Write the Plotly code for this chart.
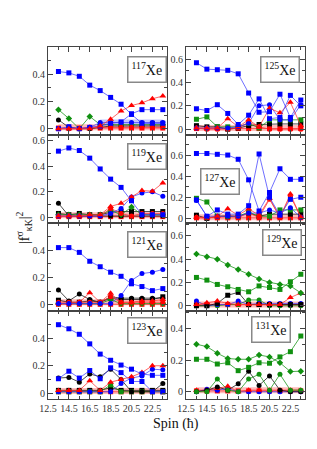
import plotly.graph_objects as go

SPIN = [13.5, 14.5, 15.5, 16.5, 17.5, 18.5, 19.5, 20.5, 21.5, 22.5, 23.5]
X_TICKS = [12.5, 14.5, 16.5, 18.5, 20.5, 22.5]
X_TICK_LABELS = ["12.5", "14.5", "16.5", "18.5", "20.5", "22.5"]

# ---- 117Xe ----
xe117_blue_sq = [0.42, 0.41, 0.385, 0.32, 0.28, 0.23, 0.18, 0.105, 0.04, 0.04, 0.04]
xe117_blue_sq2 = [0.0, 0.015, 0.0, 0.01, 0.02, 0.04, 0.05, 0.11, 0.14, 0.14, 0.14]
xe117_blue_ci = [0.0, 0.0, 0.0, 0.01, 0.045, 0.045, 0.045, 0.045, 0.045, 0.045, 0.045]
xe117_red_tri = [0.0, 0.0, 0.0, 0.0, 0.02, 0.07, 0.13, 0.17, 0.19, 0.22, 0.24]
xe117_green = [0.14, 0.075, 0.0, 0.09, 0.03, 0.03, 0.03, 0.03, 0.03, 0.03, 0.03]
xe117_black = [0.065, 0.01, 0.0, 0.0, 0.01, 0.02, 0.02, 0.02, 0.02, 0.02, 0.02]
xe117_red_ci = [0.0, 0.0, 0.0, 0.01, 0.01, 0.01, 0.01, 0.01, 0.01, 0.01, 0.01]
xe117_red_sq = [0.005, 0.005, 0.005, 0.005, 0.005, 0.005, 0.005, 0.005, 0.005, 0.005, 0.005]
xe117_band_blue = [None, None, None, None, 0.045, 0.045, 0.045, 0.045, 0.045, 0.045, 0.045]
xe117_band_red = [0.01, 0.01, 0.01, 0.01, 0.01, 0.01, 0.01, 0.01, 0.01, 0.01, 0.01]

# ---- 125Xe ----
xe125_blue_sq = [0.57, 0.515, 0.51, 0.505, 0.475, 0.31, 0.145, 0.15, 0.30, 0.10, 0.25]
xe125_blue_sq2 = [0.175, 0.16, 0.21, 0.135, 0.04, 0.12, 0.26, 0.09, 0.10, 0.29, 0.20]
xe125_blue_ci = [0.01, 0.01, 0.01, 0.01, 0.02, 0.05, 0.20, 0.21, 0.08, 0.08, 0.21]
xe125_red_tri = [0.01, 0.01, 0.01, 0.09, 0.02, 0.08, 0.02, 0.18, 0.14, 0.23, 0.03]
xe125_green = [0.085, 0.105, 0.02, 0.02, 0.02, 0.05, 0.01, 0.08, 0.08, 0.08, 0.08]
xe125_black = [0.03, 0.02, 0.02, 0.0, 0.01, 0.03, 0.04, 0.045, 0.045, 0.045, 0.045]
xe125_red_ci = [0.01, 0.0, 0.0, 0.0, 0.01, 0.06, 0.02, 0.0, 0.0, 0.0, 0.0]
xe125_red_sq = [0.005, 0.005, 0.005, 0.005, 0.005, 0.005, 0.005, 0.005, 0.005, 0.005, 0.005]
xe125_band_red = [0.01, 0.01, 0.01, 0.01, 0.01, 0.01, 0.01, 0.01, 0.01, 0.01, 0.01]

# ---- 119Xe ----
xe119_blue_sq = [0.52, 0.545, 0.525, 0.465, 0.38, 0.30, 0.235, 0.13, 0.02, 0.02, 0.02]
xe119_blue_ci = [0.01, 0.01, 0.01, 0.01, 0.01, 0.03, 0.07, 0.16, 0.19, 0.20, 0.165]
xe119_red_tri = [0.01, 0.01, 0.01, 0.02, 0.02, 0.085, 0.11, 0.16, 0.21, 0.205, 0.27]
xe119_green = [0.02, 0.02, 0.02, 0.02, 0.02, 0.055, 0.02, 0.08, 0.02, 0.02, 0.02]
xe119_black_ci = [0.11, 0.01, 0.01, 0.01, 0.01, 0.01, 0.01, 0.01, 0.01, 0.01, 0.01]
xe119_black_sq = [0.03, 0.02, 0.03, 0.02, 0.02, 0.04, 0.045, 0.045, 0.045, 0.045, 0.045]
xe119_red_ci = [0.01, 0.01, 0.01, 0.01, 0.01, 0.07, 0.03, 0.01, 0.03, 0.03, 0.03]
xe119_red_sq = [0.005, 0.005, 0.005, 0.005, 0.005, 0.005, 0.005, 0.005, 0.005, 0.005, 0.005]
xe119_band_red = [0.015, 0.015, 0.015, 0.015, 0.015, 0.015, 0.015, 0.015, 0.015, 0.015, 0.015]

# ---- 127Xe ----
xe127_blue_sq = [0.615, 0.615, 0.607, 0.60, 0.56, 0.365, 0.07, 0.245, 0.47, 0.37, 0.37]
xe127_blue_sq2 = [0.175, 0.02, 0.08, 0.04, 0.04, 0.12, 0.61, 0.20, 0.03, 0.18, 0.20]
xe127_blue_ci = [0.17, 0.02, 0.02, 0.02, 0.02, 0.05, 0.05, 0.08, 0.05, 0.10, 0.01]
xe127_green = [0.19, 0.155, 0.02, 0.02, 0.02, 0.06, 0.02, 0.02, 0.08, 0.08, 0.08]
xe127_red_tri = [0.01, 0.0, 0.02, 0.09, 0.03, 0.09, 0.03, 0.19, 0.01, 0.23, 0.01]
xe127_red_ci = [0.01, 0.01, 0.01, 0.03, 0.01, 0.05, 0.01, 0.18, 0.01, 0.21, 0.01]
xe127_black = [0.03, 0.0, 0.02, 0.02, 0.02, 0.05, 0.02, 0.04, 0.04, 0.04, 0.04]
xe127_red_sq = [0.005, 0.005, 0.005, 0.005, 0.005, 0.005, 0.005, 0.005, 0.005, 0.005, 0.005]
xe127_band_red = [0.01, 0.01, 0.01, 0.01, 0.01, 0.01, 0.01, 0.01, 0.01, 0.01, 0.01]

# ---- 121Xe ----
xe121_blue_sq = [0.42, 0.42, 0.385, 0.32, 0.28, 0.24, 0.21, 0.155, 0.135, 0.105, 0.12]
xe121_blue_ci = [0.01, 0.01, 0.01, 0.01, 0.01, 0.01, 0.07, 0.18, 0.23, 0.24, 0.26]
xe121_black_ci = [0.11, 0.03, 0.08, 0.04, 0.02, 0.06, 0.05, 0.05, 0.05, 0.05, 0.05]
xe121_black_sq = [0.035, 0.02, 0.02, 0.03, 0.02, 0.05, 0.04, 0.04, 0.04, 0.04, 0.06]
xe121_red_tri = [0.01, 0.01, 0.02, 0.09, 0.02, 0.085, 0.02, 0.02, 0.03, 0.03, 0.04]
xe121_green = [0.01, 0.01, 0.01, 0.01, 0.01, 0.04, 0.01, 0.01, 0.01, 0.01, 0.01]
xe121_red_ci = [0.02, 0.02, 0.02, 0.02, 0.02, 0.06, 0.02, 0.02, 0.02, 0.02, 0.02]
xe121_red_sq = [0.005, 0.005, 0.005, 0.005, 0.005, 0.005, 0.005, 0.005, 0.005, 0.005, 0.005]
xe121_band_red = [0.02, 0.02, 0.02, 0.02, 0.02, 0.02, 0.02, 0.02, 0.02, 0.02, 0.02]

# ---- 129Xe ----
xe129_green_di = [0.443, 0.42, 0.40, 0.35, 0.31, 0.27, 0.23, 0.20, 0.183, 0.17, 0.11]
xe129_green_sq = [0.243, 0.22, 0.183, 0.163, 0.14, 0.12, 0.17, 0.157, 0.14, 0.206, 0.27]
xe129_black = [0.0, 0.0, 0.02, 0.09, 0.115, 0.01, 0.01, 0.01, 0.01, 0.01, 0.01]
xe129_blue = [0.04, 0.0, 0.01, 0.01, 0.04, 0.01, 0.02, 0.02, 0.02, 0.02, 0.02]
xe129_red_tri = [0.01, 0.026, 0.04, 0.02, 0.01, 0.01, 0.01, 0.01, 0.01, 0.07, 0.11]
xe129_green_ci = [0.0, 0.0, 0.0, 0.01, 0.01, 0.05, 0.05, 0.0, 0.0, 0.0, 0.0]
xe129_red_sq = [0.01, 0.01, 0.01, 0.01, 0.01, 0.01, 0.01, 0.01, 0.01, 0.01, 0.01]
xe129_band_red = [0.01, 0.01, 0.01, 0.01, 0.01, 0.01, 0.01, 0.01, 0.01, 0.01, 0.01]

# ---- 123Xe ----
xe123_blue_sq = [0.50, 0.47, 0.43, 0.36, 0.285, 0.24, 0.205, 0.175, 0.14, 0.13, 0.13]
xe123_blue_sq2 = [0.105, 0.16, 0.11, 0.165, 0.105, 0.185, 0.15, 0.085, 0.085, 0.01, 0.01]
xe123_blue_ci = [0.01, 0.01, 0.01, 0.01, 0.01, 0.01, 0.07, 0.11, 0.125, 0.175, 0.17]
xe123_black_ci = [0.11, 0.115, 0.08, 0.14, 0.12, 0.175, 0.10, 0.01, 0.01, 0.01, 0.07]
xe123_red_tri = [0.02, 0.02, 0.02, 0.09, 0.02, 0.08, 0.10, 0.12, 0.15, 0.20, 0.20]
xe123_green = [0.01, 0.01, 0.01, 0.01, 0.01, 0.06, 0.01, 0.01, 0.01, 0.01, 0.01]
xe123_black_sq = [0.02, 0.02, 0.02, 0.02, 0.02, 0.04, 0.02, 0.02, 0.02, 0.02, 0.02]
xe123_red_sq = [0.01, 0.01, 0.01, 0.01, 0.01, 0.01, 0.01, 0.01, 0.01, 0.01, 0.01]
xe123_band_red = [0.015, 0.015, 0.015, 0.015, 0.015, 0.015, 0.015, 0.015, 0.015, 0.015, 0.015]

# ---- 131Xe ----
xe131_green_di = [0.30, 0.285, 0.243, 0.21, 0.205, 0.205, 0.232, 0.22, 0.183, 0.127, 0.13]
xe131_green_sq = [0.205, 0.205, 0.175, 0.183, 0.133, 0.154, 0.183, 0.18, 0.22, 0.253, 0.352]
xe131_green_ci = [0.0, 0.0, 0.08, 0.01, 0.0, 0.08, 0.11, 0.01, 0.11, 0.01, 0.01]
xe131_black = [0.0, 0.01, 0.03, 0.01, 0.05, 0.13, 0.04, 0.10, 0.01, 0.0, 0.0]
xe131_red_tri = [0.01, 0.01, 0.02, 0.035, 0.0, 0.01, 0.01, 0.01, 0.01, 0.01, 0.01]
xe131_blue = [0.0, 0.015, 0.01, 0.02, 0.0, 0.0, 0.0, 0.0, 0.0, 0.0, 0.0]
xe131_red_sq = [0.005, 0.005, 0.005, 0.005, 0.005, 0.005, 0.005, 0.005, 0.005, 0.005, 0.005]
xe131_band_red = [0.01, 0.01, 0.01, 0.01, 0.01, 0.01, 0.01, 0.01, 0.01, 0.01, 0.01]

BLUE, RED, GREEN, BLACK = "#0000ff", "#ff0000", "#109010", "#000000"
STYLES = {
    "blue_sq": (BLUE, "square"), "blue_ci": (BLUE, "circle"),
    "red_tri": (RED, "triangle-up"), "red_sq": (RED, "square"), "red_ci": (RED, "circle"),
    "green_di": (GREEN, "diamond"), "green_sq": (GREEN, "square"), "green_ci": (GREEN, "circle"),
    "black_ci": (BLACK, "circle"), "black_sq": (BLACK, "square"),
}
LINE_COL = {BLUE: "rgba(50,50,255,0.7)", RED: "rgba(255,50,50,0.75)",
            GREEN: "rgba(16,144,16,0.75)", BLACK: "rgba(0,0,0,0.7)"}

# label, col, row, y-range, yticks, series, bands
PANELS = [
    ("117", 0, 0, [-0.046, 0.6], [0, 0.2, 0.4],
     [(xe117_red_sq, "red_sq"), (xe117_black, "black_ci"), (xe117_green, "green_di"),
      (xe117_blue_ci, "blue_ci"), (xe117_red_ci, "red_ci"), (xe117_blue_sq2, "blue_sq"),
      (xe117_red_tri, "red_tri"), (xe117_blue_sq, "blue_sq")],
     [(xe117_band_blue, "rgba(60,60,255,0.3)"), (xe117_band_red, "rgba(255,60,60,0.35)")]),
    ("125", 1, 0, [-0.05, 0.705], [0, 0.2, 0.4, 0.6],
     [(xe125_red_sq, "red_sq"), (xe125_black, "black_sq"), (xe125_green, "green_sq"),
      (xe125_red_ci, "red_ci"), (xe125_blue_ci, "blue_ci"), (xe125_red_tri, "red_tri"),
      (xe125_blue_sq2, "blue_sq"), (xe125_blue_sq, "blue_sq")],
     [(xe125_band_red, "rgba(255,60,60,0.35)")]),
    ("119", 0, 1, [-0.045, 0.647], [0, 0.2, 0.4, 0.6],
     [(xe119_red_sq, "red_sq"), (xe119_black_sq, "black_sq"), (xe119_black_ci, "black_ci"),
      (xe119_green, "green_di"), (xe119_red_ci, "red_ci"), (xe119_blue_ci, "blue_ci"),
      (xe119_red_tri, "red_tri"), (xe119_blue_sq, "blue_sq")],
     [(xe119_band_red, "rgba(255,60,60,0.35)")]),
    ("127", 1, 1, [-0.044, 0.79], [0, 0.2, 0.4, 0.6],
     [(xe127_red_sq, "red_sq"), (xe127_black, "black_sq"), (xe127_green, "green_sq"),
      (xe127_red_ci, "red_ci"), (xe127_blue_ci, "blue_ci"), (xe127_red_tri, "red_tri"),
      (xe127_blue_sq2, "blue_sq"), (xe127_blue_sq, "blue_sq")],
     [(xe127_band_red, "rgba(255,60,60,0.35)")]),
    ("121", 0, 2, [-0.044, 0.6], [0, 0.2, 0.4],
     [(xe121_red_sq, "red_sq"), (xe121_black_sq, "black_sq"), (xe121_black_ci, "black_ci"),
      (xe121_green, "green_di"), (xe121_red_ci, "red_ci"), (xe121_red_tri, "red_tri"),
      (xe121_blue_ci, "blue_ci"), (xe121_blue_sq, "blue_sq")],
     [(xe121_band_red, "rgba(255,60,60,0.35)")]),
    ("129", 1, 2, [-0.045, 0.71], [0, 0.2, 0.4, 0.6],
     [(xe129_red_sq, "red_sq"), (xe129_green_ci, "green_ci"), (xe129_blue, "blue_ci"),
      (xe129_black, "black_sq"), (xe129_red_tri, "red_tri"), (xe129_green_sq, "green_sq"),
      (xe129_green_di, "green_di")],
     [(xe129_band_red, "rgba(255,60,60,0.35)")]),
    ("123", 0, 3, [-0.043, 0.6], [0, 0.2, 0.4],
     [(xe123_red_sq, "red_sq"), (xe123_black_sq, "black_sq"), (xe123_green, "green_sq"),
      (xe123_black_ci, "black_ci"), (xe123_blue_ci, "blue_ci"), (xe123_blue_sq2, "blue_sq"),
      (xe123_red_tri, "red_tri"), (xe123_blue_sq, "blue_sq")],
     [(xe123_band_red, "rgba(255,60,60,0.35)")]),
    ("131", 1, 3, [-0.046, 0.51], [0, 0.2, 0.4],
     [(xe131_red_sq, "red_sq"), (xe131_blue, "blue_ci"), (xe131_red_tri, "red_tri"),
      (xe131_black, "black_ci"), (xe131_green_ci, "green_ci"), (xe131_green_sq, "green_sq"),
      (xe131_green_di, "green_di")],
     [(xe131_band_red, "rgba(255,60,60,0.35)")]),
]

# label box centres in page pixels
LABEL_POS = {"117": (147, 69), "125": (280, 70), "119": (147, 156), "127": (220, 181),
             "121": (147, 244), "129": (282, 242), "123": (147, 330), "131": (271, 329)}

# The page body has an 8 px margin, so the figure is placed at (8, 8) in the window.
OFF = 8
W, H = 317 - 2 * OFF, 449 - 2 * OFF
COL_PX = [(48, 167), (186, 305)]
ROW_PX = [(47, 135), (135, 223), (223, 311), (311, 399)]
FONT = "Liberation Serif, Times New Roman, serif"
AX_COL = "#444444"


def px_x(p):
    return (p - OFF) / W


def px_y(p):
    return 1 - (p - OFF) / H


fig = go.Figure()
layout = dict(width=W, height=H, margin=dict(l=0, r=0, t=0, b=0, autoexpand=False),
              paper_bgcolor="white", plot_bgcolor="white", showlegend=False,
              annotations=[])

for i, (lab, col, row, yr, ytk, series, bands) in enumerate(PANELS):
    n = i + 1
    xa, ya = f"x{n}", f"y{n}"
    for vals, rgba in bands:
        fig.add_trace(go.Scatter(x=SPIN, y=vals, mode="lines", xaxis=xa, yaxis=ya,
                                 line=dict(color=rgba, width=6), hoverinfo="skip"))
    for vals, key in series:
        c, sym = STYLES[key]
        fig.add_trace(go.Scatter(x=SPIN, y=vals, mode="lines+markers", xaxis=xa, yaxis=ya,
                                 line=dict(color=LINE_COL[c], width=1),
                                 marker=dict(color=c, symbol=sym,
                                             size=6 if sym == "triangle-up" else 5,
                                             line=dict(width=0))))
    x0, x1 = COL_PX[col]
    y0, y1 = ROW_PX[row]
    minor_y = [k / 10 for k in range(0, 8)]
    layout[f"xaxis{n}"] = dict(
        domain=[px_x(x0), px_x(x1)], range=[12.5, 23.9], anchor=ya,
        tickmode="array", tickvals=X_TICKS,
        ticktext=X_TICK_LABELS if row == 3 else ["" for _ in X_TICKS],
        ticks="inside", ticklen=5, tickwidth=1, tickcolor=AX_COL,
        minor=dict(ticks="inside", ticklen=3, tickcolor=AX_COL, dtick=1, tick0=12.5),
        showline=True, linecolor=AX_COL, linewidth=1.2, mirror="allticks",
        showgrid=False, zeroline=False,
        tickfont=dict(family=FONT, size=10, color="#333333"))
    layout[f"yaxis{n}"] = dict(
        domain=[px_y(y1), px_y(y0)], range=yr, anchor=xa,
        tickmode="array", tickvals=ytk, ticktext=[("0" if v == 0 else f"{v:.1f}") for v in ytk],
        ticks="inside", ticklen=5, tickwidth=1, tickcolor=AX_COL,
        minor=dict(ticks="inside", ticklen=3, tickcolor=AX_COL,
                   tickvals=[v for v in minor_y if yr[0] < v < yr[1]]),
        showline=True, linecolor=AX_COL, linewidth=1.2, mirror="allticks",
        showgrid=False, zeroline=False,
        tickfont=dict(family=FONT, size=10, color="#333333"))
    cx, cy = LABEL_POS[lab]
    layout["annotations"].append(dict(
        x=px_x(cx), y=px_y(cy), xref="paper", yref="paper", xanchor="center", yanchor="middle",
        text=f"<sup>{lab}</sup>Xe", showarrow=False,
        font=dict(family=FONT, size=14, color="#111111"),
        bgcolor="white", bordercolor="#888888", borderwidth=1.5, borderpad=3))

layout["annotations"].append(dict(
    x=px_x(24), y=px_y(228), xref="paper", yref="paper", xanchor="center", yanchor="middle",
    text="|f<sup>σ</sup><sub>κK</sub>|<sup>2</sup>", textangle=-90, showarrow=False,
    font=dict(family=FONT, size=14, color="#111111")))
layout["annotations"].append(dict(
    x=px_x(176), y=px_y(424), xref="paper", yref="paper", xanchor="center", yanchor="middle",
    text="Spin (ħ)", showarrow=False, font=dict(family=FONT, size=14, color="#111111")))

fig.update_layout(**layout)
fig.write_html("out.html")
